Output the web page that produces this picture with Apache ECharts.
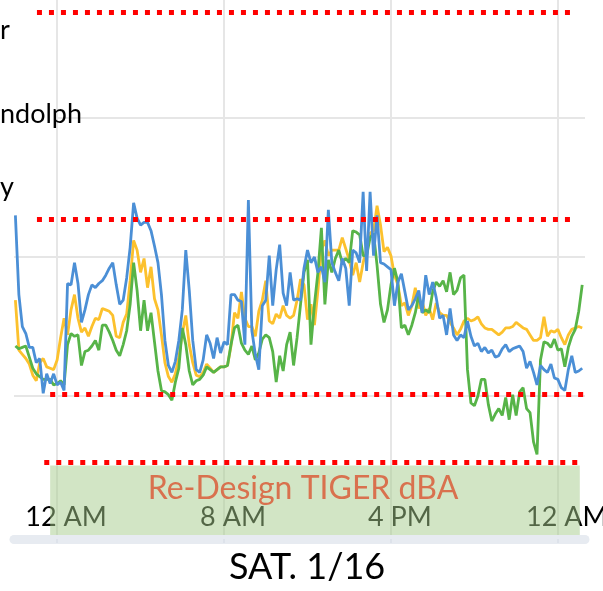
<!DOCTYPE html>
<html><head><meta charset="utf-8">
<script src="https://cdn.jsdelivr.net/npm/echarts@6/dist/echarts.min.js"></script>
<style>html,body{margin:0;padding:0;background:#fff}#c{width:603px;height:591px}</style>
</head><body><div id="c"></div>
<script>
// minutes relative to Sat 1/16 midnight
const times = [-120,-110,-100,-90,-80,-70,-60,-50,-40,-30,-20,-10,
0,10,20,30,40,50,60,70,80,90,100,110,
120,130,140,150,160,170,180,190,200,210,220,230,
240,250,260,270,280,290,300,310,320,330,340,350,
360,370,380,390,400,410,420,430,440,450,460,470,
480,490,500,510,520,530,540,550,560,570,580,590,
600,610,620,630,640,650,660,670,680,690,700,710,
720,730,740,750,760,770,780,790,800,810,820,830,
840,850,860,870,880,890,900,910,920,930,940,950,
960,970,980,990,1000,1010,1020,1030,1040,1050,1060,1070,
1080,1090,1100,1110,1120,1130,1140,1150,1160,1170,1180,1190,
1200,1210,1220,1230,1240,1250,1260,1270,1280,1290,1300,1310,
1320,1330,1340,1350,1360,1370,1380,1390,1400,1410,1420,1430,
1440,1450,1460,1470,1480,1490,1500,1510];

const blue = [73.0,67.3,65.0,64.5,63.5,63.5,62.4,62.7,60.2,61.6,60.9,61.6,
60.8,61.0,60.4,68.1,68.0,69.6,68.1,65.3,66.2,67.3,68.0,67.8,
68.1,68.3,68.7,69.2,69.6,68.0,66.6,66.9,68.5,70.7,73.9,72.8,
72.3,72.5,72.5,71.9,70.8,69.6,67.3,64.0,62.2,61.7,62.5,64.0,
66.2,70.5,67.6,64.0,61.9,61.7,62.6,64.4,63.8,62.7,64.2,63.1,
63.9,63.7,67.3,67.3,66.9,66.8,63.7,74.1,64.7,63.0,61.9,66.5,
66.9,70.1,66.5,69.1,70.9,67.4,66.5,68.9,66.9,67.0,66.9,69.2,
70.5,69.6,70.0,68.9,69.3,68.2,73.4,69.6,68.9,68.3,69.9,69.2,
66.5,70.5,70.3,69.6,74.7,69.0,74.7,70.1,73.0,69.6,69.5,69.3,
69.1,66.5,68.2,68.8,67.5,66.2,66.5,67.0,67.6,66.0,68.7,67.3,
68.2,67.1,65.6,65.8,64.4,66.3,64.4,64.0,64.4,64.2,65.4,64.3,
63.6,63.8,63.2,63.5,63.1,63.3,62.8,62.9,63.4,63.7,63.2,63.4,
63.5,63.6,63.2,62.0,62.5,61.7,60.8,62.2,61.9,61.7,62.3,61.3,
61.2,60.6,60.4,61.9,62.9,61.7,61.8,62.0];

const yellow = [66.9,63.3,63.0,62.7,62.3,61.5,61.1,62.4,62.7,62.1,62.0,61.9,
62.6,64.2,65.6,64.4,66.2,67.3,65.6,64.6,64.9,64.3,65.0,65.6,
65.5,66.3,66.2,66.1,65.8,64.3,64.2,65.3,65.9,68.3,71.2,70.5,
68.9,69.9,67.8,69.3,67.0,66.2,64.4,62.4,61.4,61.0,61.6,62.8,
64.5,65.8,63.7,62.4,61.5,61.4,61.7,62.3,62.0,61.7,61.9,62.1,
62.1,62.2,63.6,66.0,65.6,67.5,65.6,65.0,65.0,64.3,66.1,66.9,
68.3,65.4,65.2,65.9,65.6,66.5,65.8,65.6,65.8,66.9,68.4,68.0,
65.5,66.6,65.1,67.6,70.5,71.2,70.1,70.5,70.5,70.5,71.4,70.6,
69.8,68.7,69.6,68.2,69.6,70.6,71.7,71.9,73.7,72.3,70.4,70.7,
70.1,68.7,68.0,66.5,66.7,65.8,66.5,67.8,66.3,66.8,65.8,66.3,
65.5,66.7,66.0,65.8,65.8,65.3,64.9,64.4,64.8,65.4,65.6,65.4,
65.5,65.7,65.2,64.9,64.8,64.8,64.6,64.4,64.6,64.9,64.9,65.0,
65.3,65.1,64.9,64.8,64.4,64.0,64.0,64.2,65.7,64.3,64.7,64.6,
64.8,64.2,63.7,64.4,64.8,64.9,65.0,64.9];

const green = [63.6,63.4,63.5,63.6,62.8,62.0,61.6,61.4,61.2,61.2,61.2,60.8,
60.9,61.1,60.8,63.7,64.5,64.3,64.4,62.2,63.2,63.3,63.6,64.0,
63.3,65.1,65.1,64.6,64.0,63.3,62.9,63.7,64.7,66.6,69.6,67.6,
64.7,66.9,64.7,66.0,63.9,61.8,60.4,60.3,60.1,59.7,61.0,62.0,
64.9,63.7,61.8,60.8,61.1,61.2,61.5,62.1,61.9,61.7,61.9,62.1,
62.1,62.2,63.7,64.9,65.1,63.8,63.3,63.0,63.6,62.6,63.1,64.1,
64.4,64.2,63.2,61.0,62.9,61.8,63.7,64.6,62.2,64.2,66.6,68.9,
69.8,63.7,66.6,68.9,72.1,66.6,69.8,68.9,69.9,70.5,69.6,69.9,
69.6,71.9,71.8,71.6,70.1,70.1,71.4,71.7,69.4,66.6,65.3,66.2,
68.0,69.2,68.2,64.9,65.1,64.4,65.1,66.0,67.3,66.0,66.2,66.0,
67.5,68.2,67.9,68.3,67.5,68.9,67.3,67.6,68.5,68.7,61.9,59.5,
59.3,60.0,61.2,61.2,59.4,58.2,58.7,59.1,58.6,59.9,58.3,60.1,
58.6,60.3,60.6,59.1,58.8,56.7,55.8,62.6,63.9,63.8,63.5,64.1,
63.3,63.4,62.1,63.5,64.3,64.8,66.1,68.0];

const tickValues = [0, 480, 960, 1440];
const tickLabels = ['12 AM', '8 AM', '4 PM', '12 AM'];
const thresholdValues = [87.6, 72.7, 60.1, 55.2];
const thresholdStart = [-58, -58, -20, -37];
const thresholdEnd = [1480, 1480, 1518, 1497];
const bandLabel = 'Re-Design TIGER dBA';
const bandValues = [50, 55];
const bandTimes = [-20, 1503];
const legendFragments = ['r', 'ndolph', 'y'];
const dayTitle = 'SAT. 1/16';

const FONT = 'Lato, "Open Sans", sans-serif';
const chart = echarts.init(document.getElementById('c'), null, {renderer: 'canvas'});
const pairs = arr => times.map((t, i) => [t, arr[i]]);
const lineSeries = (name, arr, color, z) => ({
  name, type: 'line', data: pairs(arr), symbol: 'none', showSymbol: false, z,
  lineStyle: {color, width: 2.8}, itemStyle: {color}, silent: true
});

const option = {
  animation: false,
  title: {text: dayTitle, left: 229, top: 549, padding: 0,
    textStyle: {fontFamily: FONT, fontSize: 36, fontWeight: 'normal', color: '#000'}},
  grid: {left: 14, right: 18, top: 0, bottom: 56, containLabel: false, outerBoundsMode: 'none'},
  xAxis: {
    type: 'value', min: -124, max: 1518, offset: 4,
    axisLine: {show: true, onZero: false, lineStyle: {color: '#e7ebf1', width: 9}},
    axisTick: {show: true, inside: false, length: 4, customValues: tickValues, lineStyle: {color: '#dde2ea', width: 2}},
    axisLabel: {inside: true, margin: 8, padding: [0, 0, 0, 18], fontFamily: FONT, fontSize: 27, color: '#000',
      customValues: tickValues, hideOverlap: false,
      formatter: v => { const i = tickValues.indexOf(v); return i >= 0 ? tickLabels[i] : ''; }},
    splitLine: {show: true, lineStyle: {color: '#e6e6e6', width: 2}}
  },
  yAxis: {
    type: 'value', min: 50, max: 88.5, interval: 10,
    axisLine: {show: false}, axisTick: {show: false}, axisLabel: {show: false},
    splitLine: {show: true, showMinLine: false, showMaxLine: false, lineStyle: {color: '#e6e6e6', width: 2}}
  },
  graphic: [
    {type: 'rect', z: 1, shape: {x: 0, y: 112, width: 56, height: 12}, style: {fill: '#fff'}},
    {type: 'text', z: 20, x: 0, y: 30, style: {text: legendFragments[0], font: '27px ' + FONT, fill: '#000', textVerticalAlign: 'middle'}},
    {type: 'text', z: 20, x: 0, y: 114, style: {text: legendFragments[1], font: '27px ' + FONT, fill: '#000', textVerticalAlign: 'middle'}},
    {type: 'text', z: 20, x: 0, y: 187, style: {text: legendFragments[2], font: '27px ' + FONT, fill: '#000', textVerticalAlign: 'middle'}}
  ],
  series: [
    lineSeries('yellow', yellow, '#fcc12d', 2),
    lineSeries('green', green, '#57b448', 3),
    lineSeries('blue', blue, '#4b8fd6', 4),
    {
      type: 'line', data: [], z: 6, silent: true,
      markLine: {
        silent: true, symbol: 'none', label: {show: false},
        lineStyle: {color: '#ff0000', width: 5, type: [5, 7], cap: 'butt'},
        emphasis: {disabled: true},
        data: thresholdValues.map((v, i) => [{coord: [thresholdStart[i], v]}, {coord: [thresholdEnd[i], v]}])
      },
      markArea: {
        silent: true,
        itemStyle: {color: 'rgba(166,204,140,0.5)'},
        label: {show: true, position: 'insideTop', distance: 7, offset: [-12, 0], formatter: bandLabel,
          color: '#d9714e', fontSize: 32, fontFamily: FONT},
        emphasis: {disabled: true},
        data: [[{coord: [bandTimes[0], bandValues[1]]}, {coord: [bandTimes[1], bandValues[0]]}]]
      }
    }
  ]
};
chart.setOption(option);
</script>
</body></html>
